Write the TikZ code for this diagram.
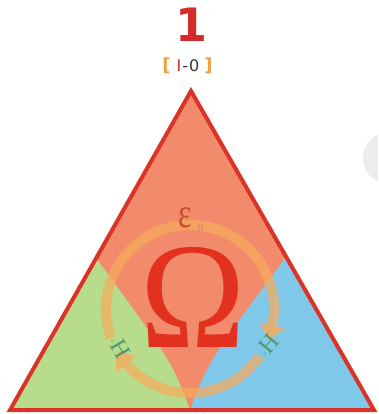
\documentclass[tikz,border=0pt]{standalone}
\usepackage{fontspec}
\newfontfamily\dvs{DejaVu Sans}
\newfontfamily\lserif{Liberation Serif}
\usetikzlibrary{arrows.meta,bending,calc}
\definecolor{tred}{HTML}{DC3328}
\definecolor{salmon}{HTML}{F28B6B}
\definecolor{lgreen}{HTML}{B6DC8C}
\definecolor{lblue}{HTML}{80C8EA}
\definecolor{ringc}{HTML}{F7AC5E}
\definecolor{omred}{HTML}{E2321F}
\definecolor{epscol}{HTML}{C8502A}
\definecolor{hgreen}{HTML}{4E9A6E}
\definecolor{brk}{HTML}{F0A040}
\definecolor{numred}{HTML}{D42A2A}
\definecolor{txtgray}{HTML}{333333}
\tikzset{
  ringarrow/.style={draw=ringc, line width=10pt, draw opacity=.72, fill opacity=.72,
    -{Triangle[width=26pt,length=16pt,bend,color=ringc]}},
  hlabel/.style={text=hgreen, inner sep=0pt, font=\lserif\fontsize{24}{24}\selectfont},
}
\begin{document}
\begin{tikzpicture}[x=1pt,y=-1pt]
\useasboundingbox (0,0) rectangle (378,414);
\fill[white] (0,0) rectangle (378,414);
\begin{scope}
  \clip (0,0) rectangle (378,414);
  \fill[gray!14] (389,158) circle (26pt);
\end{scope}
% triangle
\coordinate (A) at (191,91);
\coordinate (B) at (10,410);
\coordinate (C) at (374,410);
\coordinate (L) at (96,258);
\coordinate (R) at (286,257);
\coordinate (M) at (190,410);
\coordinate (O) at (190,309);
\fill[salmon] (A) -- (B) -- (C) -- cycle;
\fill[lgreen] (L) -- (B) -- (M) .. controls (172,362) .. cycle;
\fill[lblue] (R) -- (C) -- (M) .. controls (208,362) .. cycle;
% ring
\draw[ringarrow] ($(O)+(160:84)$) arc[start angle=160, end angle=382, radius=84];
\draw[ringarrow] ($(O)+(34:84)$) arc[start angle=34, end angle=150, radius=84];
\draw[tred, line width=4pt, line join=miter] (A) -- (B) -- (C) -- cycle;
% texts
\node[text=omred, inner sep=0pt, anchor=base, xscale=5.9, yscale=6.3, font=\lserif\fontsize{24}{24}\selectfont] (om) at (193,347) {Ω};
\node[text=epscol, inner sep=0pt, anchor=base, xscale=0.8, yscale=1.05, font=\lserif\fontsize{40}{40}\selectfont] (eps) at (185,227) {ε};
\node[text=epscol!75, inner sep=0pt, anchor=base, font=\lserif\fontsize{11}{11}\selectfont] (sub) at (200.5,231) {0};
\node[hlabel, rotate=-60] (hl) at (120,347) {{\fontsize{8}{8}\selectfont$^\circ$}H};
\node[hlabel, rotate=50] (hr) at (268,345) {{\fontsize{8}{8}\selectfont$^\circ$}H};
\node[text=numred, inner sep=0pt, anchor=base, font=\dvs\bfseries\fontsize{46}{46}\selectfont] (one) at (191,42) {1};
\node[text=brk, inner sep=0pt, anchor=base, font=\dvs\bfseries\fontsize{18}{18}\selectfont] (bl) at (166.5,72) {[};
\node[text=brk, inner sep=0pt, anchor=base, font=\dvs\bfseries\fontsize{18}{18}\selectfont] (br) at (208.5,72) {]};
\node[text=txtgray, inner sep=0pt, anchor=base, font=\dvs\fontsize{16}{16}\selectfont] (code) at (188,72) {{\color{numred}I}\kern1pt-\kern1pt0};
\end{tikzpicture}
\end{document}
